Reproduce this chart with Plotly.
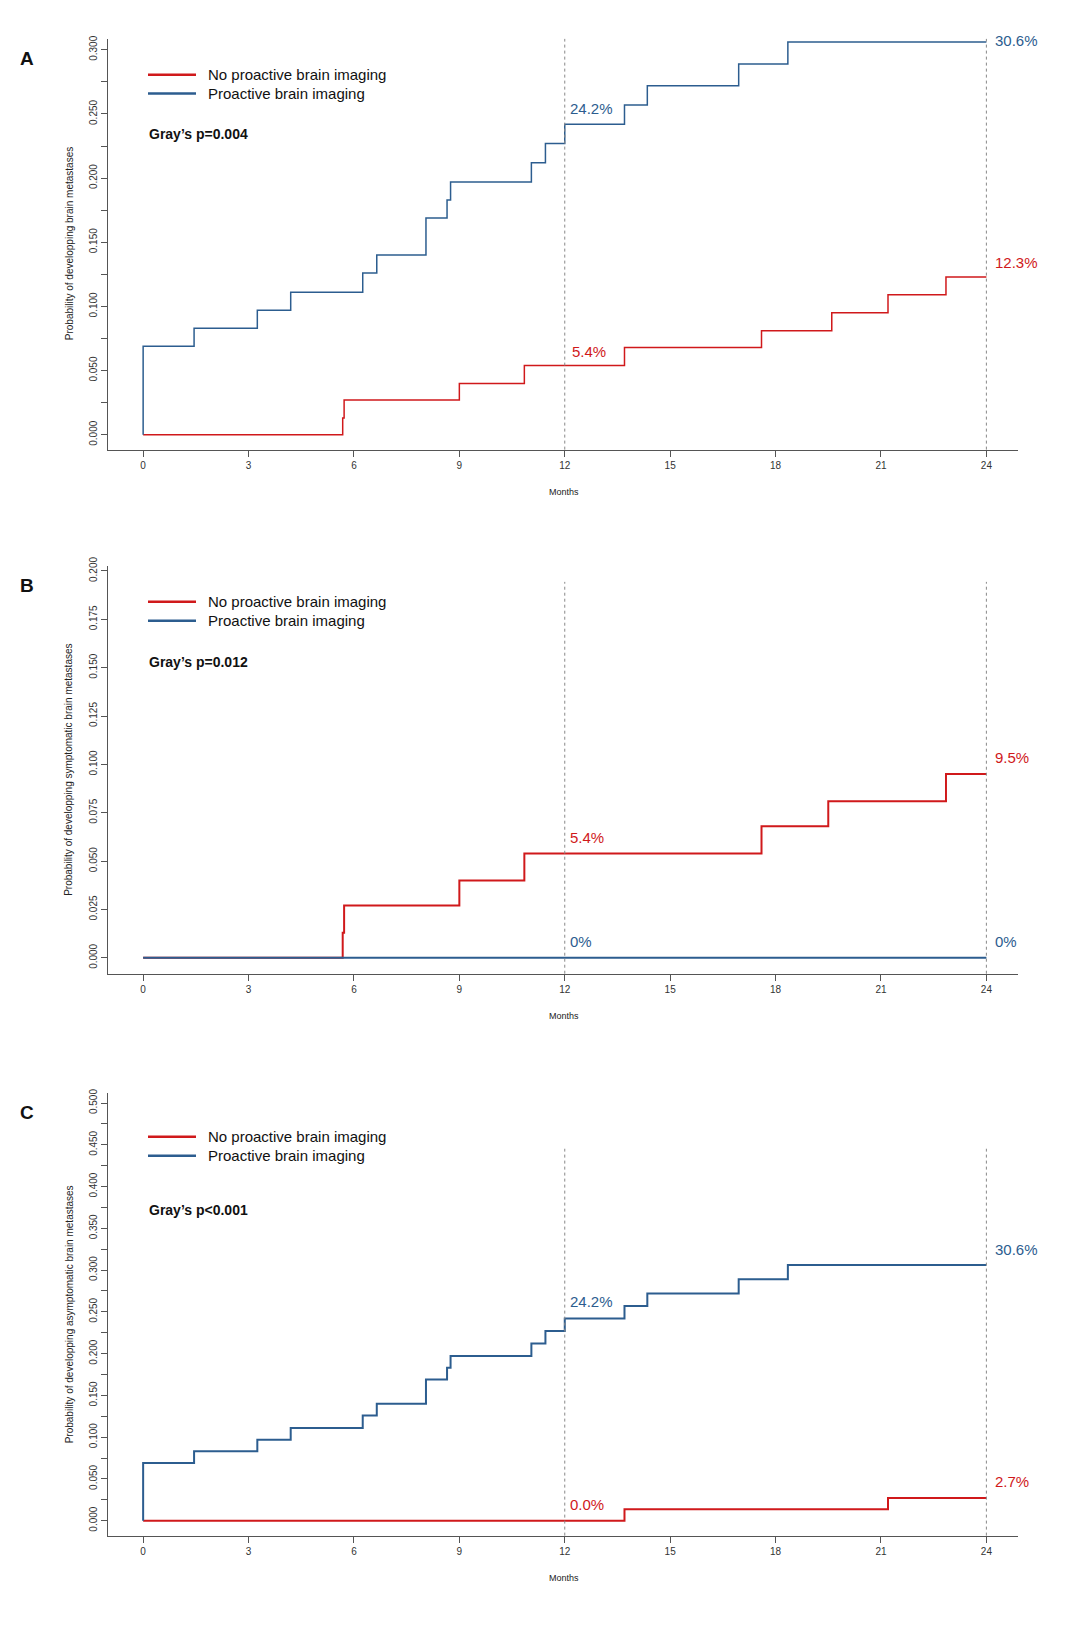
import plotly.graph_objects as go

W, H = 1080, 1635
RED = "#d0191b"
BLUE = "#2c5d8f"

# cumulative incidence step data (months, probability)
blue_t = [0, 0, 1.45, 3.25, 4.2, 6.25, 6.65, 8.05, 8.65, 8.75, 11.05, 11.45, 12.0, 13.7, 14.35, 16.95, 18.35, 24]
blue_y = [0, 0.069, 0.083, 0.097, 0.111, 0.126, 0.140, 0.169, 0.183, 0.197, 0.212, 0.227, 0.242, 0.257, 0.272, 0.289, 0.306, 0.306]

red_a_t = [0, 5.68, 5.72, 9.0, 10.85, 13.7, 17.6, 19.6, 21.2, 22.85, 24]
red_a_y = [0, 0.013, 0.027, 0.040, 0.054, 0.068, 0.081, 0.095, 0.109, 0.123, 0.123]

red_b_t = [0, 5.68, 5.72, 9.0, 10.85, 17.6, 19.5, 22.85, 24]
red_b_y = [0, 0.013, 0.027, 0.040, 0.054, 0.068, 0.081, 0.095, 0.095]
blue_b_t = [0, 24]
blue_b_y = [0, 0]

red_c_t = [0, 13.7, 21.2, 24]
red_c_y = [0, 0.0135, 0.027, 0.027]

x_ticks = [0, 3, 6, 9, 12, 15, 18, 21, 24]

panels = [
    dict(letter="A", top=22, bottom=435, yr=(-0.0116, 0.3085), dtick=0.05, minor=0.025,
         ytitle="Probability of developping brain metastases", p="Gray’s p=0.004",
         red=(red_a_t, red_a_y), blue=(blue_t, blue_y), lw=1.5, leg=58, gray=118, vtop=22,
         labels=[("24.2%", 12.1, 0.246, BLUE, "bottom"), ("30.6%", 24.2, 0.3075, BLUE, "middle"),
                 ("5.4%", 12.15, 0.057, RED, "bottom"), ("12.3%", 24.2, 0.126, RED, "bottom")]),
    dict(letter="B", top=552, bottom=962, yr=(-0.0082, 0.2026), dtick=0.025, minor=None,
         ytitle="Probability of developping symptomatic brain metastases", p="Gray’s p=0.012",
         red=(red_b_t, red_b_y), blue=(blue_b_t, blue_b_y), lw=2, leg=588, gray=649, vtop=568,
         labels=[("5.4%", 12.1, 0.057, RED, "bottom"), ("9.5%", 24.2, 0.098, RED, "bottom"),
                 ("0%", 12.1, 0.003, BLUE, "bottom"), ("0%", 24.2, 0.003, BLUE, "bottom")]),
    dict(letter="C", top=1082, bottom=1527, yr=(-0.0179, 0.512), dtick=0.05, minor=0.025,
         ytitle="Probability of developping asymptomatic brain metastases", p="Gray’s p<0.001",
         red=(red_c_t, red_c_y), blue=(blue_t, blue_y), lw=2, leg=1126, gray=1200, vtop=1138,
         labels=[("24.2%", 12.1, 0.250, BLUE, "bottom"), ("30.6%", 24.2, 0.312, BLUE, "bottom"),
                 ("0.0%", 12.1, 0.007, RED, "bottom"), ("2.7%", 24.2, 0.034, RED, "bottom")]),
]


def py(p):
    return 1 - p / H


def pxx(p):
    return p / W


fig = go.Figure()
shapes, annots = [], []

for i, pn in enumerate(panels):
    k = "" if i == 0 else str(i + 1)
    xa, ya = "x" + k, "y" + k
    for name, (t, y), col in [("No proactive brain imaging", pn["red"], RED),
                              ("Proactive brain imaging", pn["blue"], BLUE)]:
        fig.add_trace(go.Scatter(x=t, y=y, mode="lines", line=dict(color=col, width=pn["lw"], shape="hv"),
                                 name=name, showlegend=False, xaxis=xa, yaxis=ya))
    dom = [py(pn["bottom"]), py(pn["top"])]
    fig.layout["xaxis" + k] = dict(domain=[pxx(100), pxx(1010)], range=[-1, 24.9], anchor=ya,
                                   tickvals=x_ticks, showline=True, linecolor="#555", linewidth=1,
                                   ticks="outside", ticklen=6, tickcolor="#555", showgrid=False,
                                   zeroline=False, tickfont=dict(size=10, color="#333", family="Arial"))
    yax = dict(domain=dom, range=list(pn["yr"]), anchor=xa, dtick=pn["dtick"], tick0=0,
               tickformat=".3f", tickangle=-90, showline=True, linecolor="#555", linewidth=1,
               ticks="outside", ticklen=6, tickcolor="#555", showgrid=False, zeroline=False,
               tickfont=dict(size=10, color="#333", family="Arial"))
    if pn["minor"]:
        yax["minor"] = dict(dtick=pn["minor"], tick0=0, ticks="outside", ticklen=6, tickcolor="#555", showgrid=False)
    fig.layout["yaxis" + k] = yax

    for xv in (12, 24):
        shapes.append(dict(type="line", xref=xa, yref="paper", x0=xv, x1=xv,
                           y0=dom[0], y1=py(pn["vtop"]), line=dict(color="#888", width=1, dash="dot")))
    for j, (name, col) in enumerate([("No proactive brain imaging", RED), ("Proactive brain imaging", BLUE)]):
        yy = py(pn["leg"] + 19 * j)
        shapes.append(dict(type="line", xref="paper", yref="paper", x0=pxx(140), x1=pxx(188),
                           y0=yy, y1=yy, line=dict(color=col, width=2.5)))
        annots.append(dict(text=name, xref="paper", yref="paper", x=pxx(198), y=yy, xanchor="left",
                           yanchor="middle", showarrow=False, font=dict(size=15, color="#111", family="Arial")))
    annots.append(dict(text="<b>" + pn["p"] + "</b>", xref="paper", yref="paper", x=pxx(139), y=py(pn["gray"]),
                       xanchor="left", yanchor="middle", showarrow=False, font=dict(size=14, color="#111", family="Arial")))
    annots.append(dict(text="<b>" + pn["letter"] + "</b>", xref="paper", yref="paper", x=pxx(10),
                       y=py(pn["top"] + 20), xanchor="left", yanchor="middle", showarrow=False,
                       font=dict(size=19, color="#111", family="Arial")))
    annots.append(dict(text=pn["ytitle"], xref="paper", yref="paper", x=pxx(61), y=(dom[0] + dom[1]) / 2,
                       textangle=-90, xanchor="center", yanchor="middle", showarrow=False,
                       font=dict(size=10, color="#222", family="Arial")))
    annots.append(dict(text="Months", xref="paper", yref="paper", x=pxx(556), y=py(pn["bottom"] + 43),
                       xanchor="center", yanchor="middle", showarrow=False,
                       font=dict(size=9, color="#222", family="Arial")))
    for txt, xv, yv, col, anc in pn["labels"]:
        annots.append(dict(text=txt, xref=xa, yref=ya, x=xv, y=yv, xanchor="left", yanchor=anc,
                           showarrow=False, font=dict(size=15, color=col, family="Arial")))

fig.update_layout(width=W, height=H, margin=dict(l=0, r=0, t=0, b=0), plot_bgcolor="white",
                  paper_bgcolor="white", shapes=shapes, annotations=annots, showlegend=False)
fig.write_html("out.html")
